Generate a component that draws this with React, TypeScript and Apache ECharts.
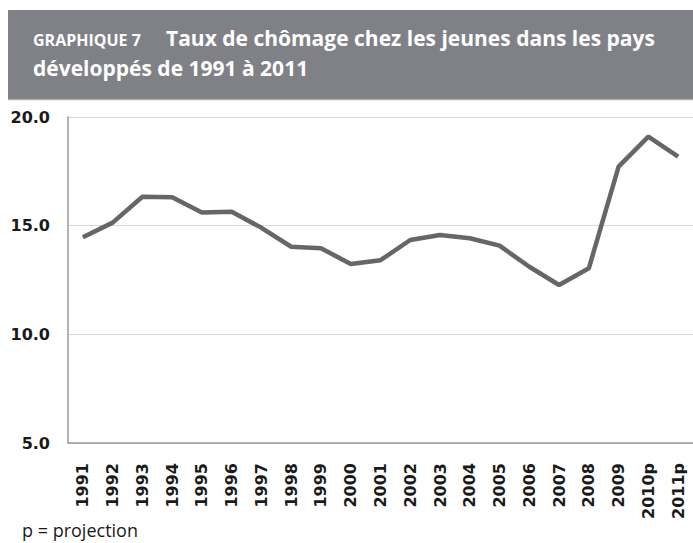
import React, { useEffect, useRef } from "react";
import * as echarts from "echarts";

const years = [
  "1991", "1992", "1993", "1994", "1995", "1996", "1997", "1998", "1999", "2000",
  "2001", "2002", "2003", "2004", "2005", "2006", "2007", "2008", "2009", "2010p", "2011p",
];
const youthUnemployment = [
  14.47, 15.14, 16.33, 16.31, 15.61, 15.64, 14.9, 14.03, 13.96, 13.24,
  13.41, 14.34, 14.57, 14.42, 14.08, 13.11, 12.27, 13.04, 17.72, 19.1, 18.18,
];
const yMin = 5;
const yMax = 20;
const yStep = 5;

const titleLabel = "GRAPHIQUE 7";
const titleLine1 = "Taux de chômage chez les jeunes dans les pays";
const titleLine2 = "développés de 1991 à 2011";
const note = "p = projection";

export default function App() {
  const ref = useRef<HTMLDivElement>(null);
  useEffect(() => {
    if (!ref.current) return;
    const chart = echarts.init(ref.current, null, { renderer: "svg" });
    chart.setOption({
      animation: false,
      backgroundColor: "#ffffff",
      grid: { left: 68, right: -5, top: 117, bottom: 100, containLabel: false },
      xAxis: {
        type: "category",
        data: years,
        boundaryGap: true,
        axisLine: { show: true, lineStyle: { color: "#9a9a9a", width: 1.5 } },
        axisTick: { show: false },
        axisLabel: {
          interval: 0,
          rotate: 90,
          margin: 20,
          color: "#1a1a1a",
          fontFamily: "DejaVu Sans",
          fontWeight: "bold",
          fontSize: 16,
        },
        splitLine: { show: false },
      },
      yAxis: {
        type: "value",
        min: yMin,
        max: yMax,
        interval: yStep,
        axisLine: { show: true, lineStyle: { color: "#9a9a9a", width: 1.5 } },
        axisTick: { show: false },
        axisLabel: {
          margin: 18,
          color: "#1a1a1a",
          fontFamily: "DejaVu Sans",
          fontWeight: "bold",
          fontSize: 16,
          formatter: (v: number) => v.toFixed(1),
        },
        splitLine: { show: true, lineStyle: { color: "#d9d9d9", width: 1 } },
      },
      series: [
        {
          type: "line",
          data: youthUnemployment,
          symbol: "none",
          lineStyle: { color: "#666666", width: 4.5 },
          z: 5,
        },
      ],
      graphic: [
        {
          type: "rect",
          shape: { x: 8, y: 10, width: 685, height: 89 },
          style: { fill: "#808186" },
          z: 0,
        },
        {
          type: "line",
          shape: { x1: 8, y1: 99.5, x2: 693, y2: 99.5 },
          style: { stroke: "#a9a9ab", lineWidth: 1.5 },
        },
        {
          type: "text",
          x: 33,
          y: 39.5,
          style: {
            text: titleLabel,
            fill: "#ffffff",
            font: "bold 16px 'Open Sans'",
            verticalAlign: "middle",
          },
        },
        {
          type: "text",
          x: 166,
          y: 38,
          style: {
            text: titleLine1,
            fill: "#ffffff",
            font: "bold 21px 'Open Sans'",
            verticalAlign: "middle",
          },
        },
        {
          type: "text",
          x: 33,
          y: 68,
          style: {
            text: titleLine2,
            fill: "#ffffff",
            font: "bold 21px 'Open Sans'",
            verticalAlign: "middle",
          },
        },
        {
          type: "text",
          x: 22,
          y: 530,
          style: {
            text: note,
            fill: "#1a1a1a",
            font: "18px 'Open Sans'",
            verticalAlign: "middle",
          },
        },
      ],
    });
    return () => chart.dispose();
  }, []);
  return (
    <div
      ref={ref}
      style={{ position: "fixed", left: 0, top: 0, width: 693, height: 543 }}
    />
  );
}
